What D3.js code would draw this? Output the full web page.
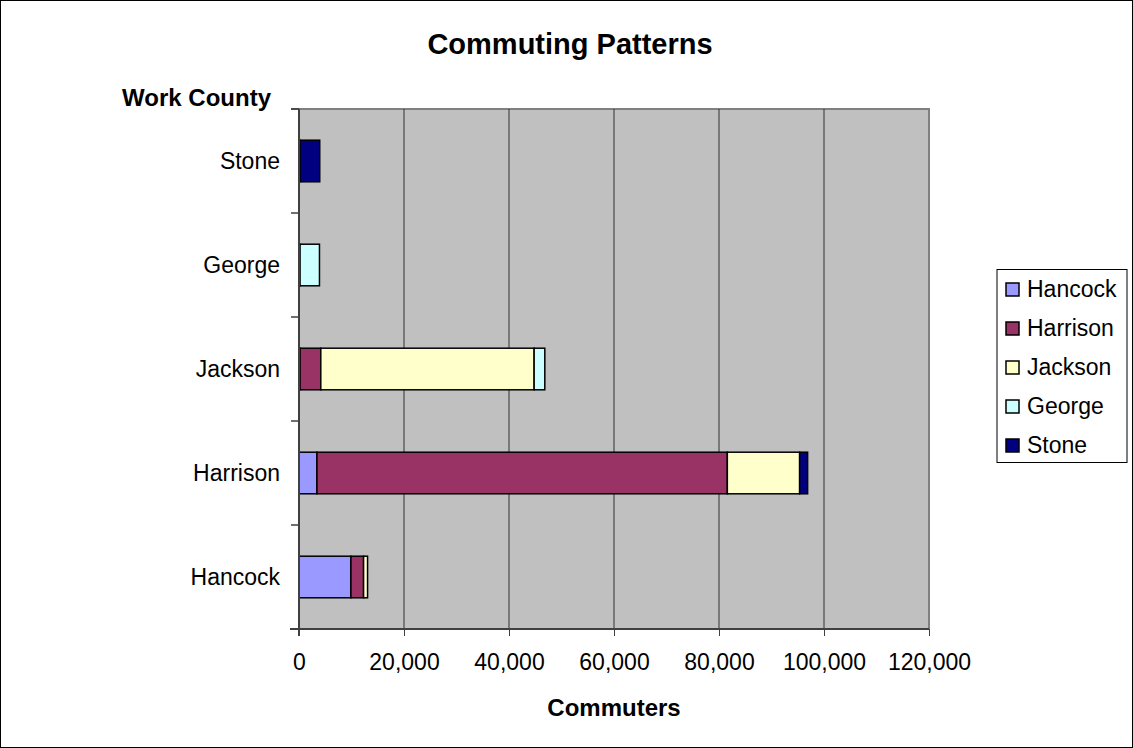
<!DOCTYPE html>
<html><head><meta charset="utf-8">
<script src="https://cdn.jsdelivr.net/npm/d3@7"></script>
<style>body{margin:0;background:#fff}svg{display:block}</style>
</head><body>
<script>
const workCounties = ["Hancock","Harrison","Jackson","George","Stone"];
const seriesNames = ["Hancock","Harrison","Jackson","George","Stone"];
const hancockVals  = [9890, 3420, 200, 200, 200];
const harrisonVals = [2410, 78170, 3950, 0, 0];
const jacksonVals  = [760, 13770, 40640, 0, 0];
const georgeVals   = [0, 0, 2030, 3700, 0];
const stoneVals    = [0, 1520, 0, 0, 3750];
const seriesColors = ["#9999FF","#993366","#FFFFCC","#CCFFFF","#000080"];
const xTicks = [0,20000,40000,60000,80000,100000,120000];

const W=1133,H=748;
const font="'Liberation Sans', Arial, sans-serif";
const svg=d3.select("body").append("svg").attr("width",W).attr("height",H);
svg.append("rect").attr("x",0.5).attr("y",0.5).attr("width",W-1).attr("height",H-1)
  .attr("fill","#fff").attr("stroke","#000");

const L=299,R=929,T=109,B=629;
const x=d3.scaleLinear().domain([0,120000]).range([L,R]);
const y=d3.scaleBand().domain(workCounties.slice().reverse()).range([T,B]).paddingInner(0.6).paddingOuter(0.3);
const yBand=d3.scaleBand().domain(workCounties.slice().reverse()).range([T,B]);

svg.append("rect").attr("x",L).attr("y",T).attr("width",R-L).attr("height",B-T)
  .attr("fill","#C0C0C0").attr("stroke","#808080").attr("stroke-width",2);

svg.append("g").selectAll("line").data(xTicks.slice(1,-1)).join("line")
  .attr("x1",d=>x(d)).attr("x2",d=>x(d)).attr("y1",T).attr("y2",B)
  .attr("stroke","#333").attr("stroke-width",1);

const table=workCounties.map((c,i)=>({county:c,Hancock:hancockVals[i],Harrison:harrisonVals[i],Jackson:jacksonVals[i],George:georgeVals[i],Stone:stoneVals[i]}));
const stacked=d3.stack().keys(seriesNames)(table);
const color=d3.scaleOrdinal().domain(seriesNames).range(seriesColors);

const gBars=svg.append("g");
stacked.forEach(s=>{
  gBars.selectAll(null).data(s.filter(d=>d[1]-d[0]>0)).join("rect")
    .attr("x",d=>x(d[0])).attr("width",d=>x(d[1])-x(d[0]))
    .attr("y",d=>y(d.data.county)).attr("height",y.bandwidth())
    .attr("fill",color(s.key)).attr("stroke","#000").attr("stroke-width",1.5);
});

// axes
const xAxis=svg.append("g").attr("transform",`translate(0,${B})`)
  .call(d3.axisBottom(x).tickValues(xTicks).tickFormat(d3.format(",")).tickSize(7).tickPadding(18));
xAxis.select(".domain").attr("stroke","#404040").attr("stroke-width",2).attr("d",`M${L-9},0H${R}`);
xAxis.selectAll(".tick line").attr("stroke","#404040");
xAxis.selectAll("text").attr("font-family",font).attr("font-size",23).attr("fill","#000");

// y axis
svg.append("line").attr("x1",L).attr("x2",L).attr("y1",T).attr("y2",B+7).attr("stroke","#404040").attr("stroke-width",2);
const bounds=workCounties.map(c=>yBand(c)).concat([T]);
svg.append("g").selectAll("line").data(bounds).join("line")
  .attr("x1",L-8).attr("x2",L).attr("y1",d=>d).attr("y2",d=>d).attr("stroke","#404040").attr("stroke-width",1.5);
svg.append("g").selectAll("text").data(workCounties).join("text")
  .attr("x",280).attr("y",d=>yBand(d)+yBand.bandwidth()/2).attr("dy","0.35em")
  .attr("text-anchor","end").attr("font-family",font).attr("font-size",23).text(d=>d);

// titles
svg.append("text").attr("x",570).attr("y",54).attr("text-anchor","middle")
  .attr("font-family",font).attr("font-weight","bold").attr("font-size",29).text("Commuting Patterns");
svg.append("text").attr("x",271).attr("y",106).attr("text-anchor","end")
  .attr("font-family",font).attr("font-weight","bold").attr("font-size",24).text("Work County");
svg.append("text").attr("x",(L+R)/2).attr("y",716).attr("text-anchor","middle")
  .attr("font-family",font).attr("font-weight","bold").attr("font-size",24).text("Commuters");

// legend
const lg=svg.append("g");
lg.append("rect").attr("x",997).attr("y",269.5).attr("width",130).attr("height",193)
  .attr("fill","#fff").attr("stroke","#000").attr("stroke-width",1);
const li=lg.selectAll("g").data(seriesNames).join("g").attr("transform",(d,i)=>`translate(0,${289+i*39})`);
li.append("rect").attr("x",1006).attr("y",-6).attr("width",13).attr("height",13)
  .attr("fill",d=>color(d)).attr("stroke","#000").attr("stroke-width",1.5);
li.append("text").attr("x",1027).attr("y",0).attr("dy","0.35em")
  .attr("font-family",font).attr("font-size",23).text(d=>d);
</script>
</body></html>
